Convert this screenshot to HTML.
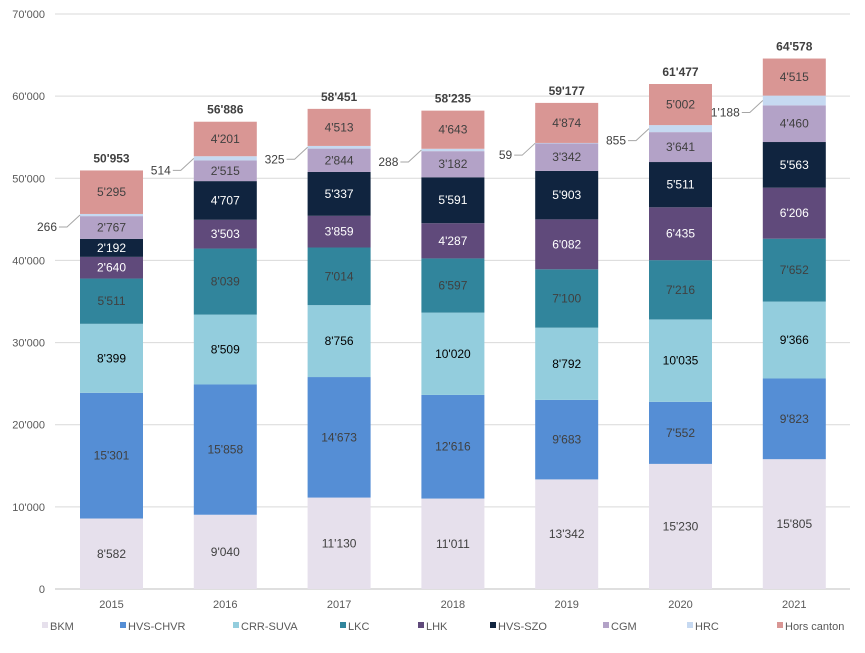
<!DOCTYPE html>
<html><head><meta charset="utf-8"><style>
body{margin:0;background:#fff;}
svg{font-family:"Liberation Sans",Arial,sans-serif;}
</style></head><body>
<svg id="chart" width="865" height="648" xmlns="http://www.w3.org/2000/svg"></svg>
<script>
const years = ['2015','2016','2017','2018','2019','2020','2021'];
const seriesNames = ['BKM','HVS-CHVR','CRR-SUVA','LKC','LHK','HVS-SZO','CGM','HRC','Hors canton'];
const BKM = [8582,9040,11130,11011,13342,15230,15805];
const HVS_CHVR = [15301,15858,14673,12616,9683,7552,9823];
const CRR_SUVA = [8399,8509,8756,10020,8792,10035,9366];
const LKC = [5511,8039,7014,6597,7100,7216,7652];
const LHK = [2640,3503,3859,4287,6082,6435,6206];
const HVS_SZO = [2192,4707,5337,5591,5903,5511,5563];
const CGM = [2767,2515,2844,3182,3342,3641,4460];
const HRC = [266,514,325,288,59,855,1188];
const HORS = [5295,4201,4513,4643,4874,5002,4515];
const yTicks = [0,10000,20000,30000,40000,50000,60000,70000];

const series = [BKM,HVS_CHVR,CRR_SUVA,LKC,LHK,HVS_SZO,CGM,HRC,HORS];
const colors = ['#e6e0ec','#558ed5','#93cddd','#31859c','#604a7b','#10243f','#b3a2c7','#c6d9f1','#d99694'];
const txtColors = ['#404040','#404040','#000','#404040','#fff','#fff','#404040',null,'#404040'];
const NS='http://www.w3.org/2000/svg';
const svg=document.getElementById('chart');
const y0=589, yTop=14, vMax=70000;
const y=v=>y0-(v/vMax)*(y0-yTop);
const xC=i=>111.5+i*113.8;
const bw=63;
function fmt(n){return String(n).replace(/\B(?=(\d{3})+(?!\d))/g,"'");}
function mk(tag,attrs,text){const e=document.createElementNS(NS,tag);for(const k in attrs)e.setAttribute(k,attrs[k]);if(text!==undefined)e.textContent=text;svg.appendChild(e);return e;}

yTicks.forEach(t=>{
  const g=mk('line',{x1:55,x2:850,y1:y(t),y2:y(t),stroke:t===0?'#bfbfbf':'#d9d9d9','stroke-width':1});
  
  
  const l=mk('text',{x:45,y:y(t)+4,'text-anchor':'end','font-size':11,fill:'#595959'},t===0?'0':fmt(t));
  
  
});

years.forEach((yr,i)=>{
  let cum=0;
  series.forEach((s,k)=>{
    const v=s[i];
    const top=y(cum+v), bot=y(cum);
    const r=mk('rect',{x:xC(i)-bw/2,y:top,width:bw,height:bot-top,fill:colors[k]});
    
    
    if(k===7){
      const my=(top+bot)/2, lx=xC(i)-bw/2-23, ly=my+12;
      const ln=mk('polyline',{points:`${lx+2},${ly} ${lx+10},${ly} ${xC(i)-bw/2},${my}`,fill:'none',stroke:'#a6a6a6','stroke-width':1});
      
      
      const t=mk('text',{x:lx,y:ly+4,'text-anchor':'end','font-size':12,fill:'#404040'},fmt(v));
      
      
    } else {
      const t=mk('text',{x:xC(i),y:(top+bot)/2+4,'text-anchor':'middle','font-size':12,fill:txtColors[k]},fmt(v));
      
      
    }
    cum+=v;
  });
  const tt=mk('text',{x:xC(i),y:y(cum)-8,'text-anchor':'middle','font-size':12,'font-weight':'bold',fill:'#404040'},fmt(cum));
  
  
  const xl=mk('text',{x:xC(i),y:608,'text-anchor':'middle','font-size':11,fill:'#595959'},yr);
  
  
});

const legX=[42,120,233,340,418,490,603,687,777];
seriesNames.forEach((n,k)=>{
  const m=mk('rect',{x:legX[k],y:622,width:6,height:6,fill:colors[k]});
  
  
  const t=mk('text',{x:legX[k]+8,y:630,'font-size':11,fill:'#595959'},n);
  
  
});
</script>
</body></html>
